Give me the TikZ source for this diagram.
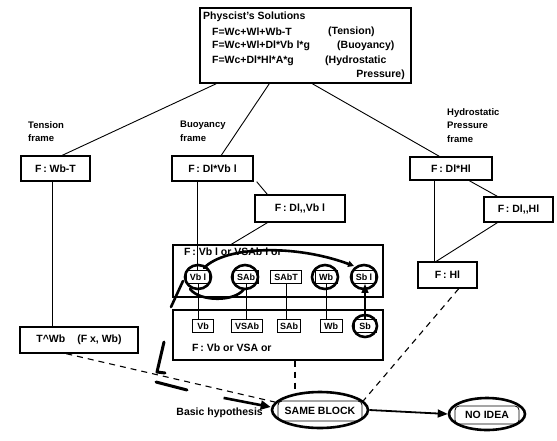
\documentclass[tikz,border=0pt]{standalone}
\usepackage{fontspec}
\setmainfont{Liberation Sans}
\usetikzlibrary{arrows.meta,calc,shapes.geometric}
\begin{document}
\begin{tikzpicture}[x=1pt,y=-1pt,
  box/.style={draw,line width=1.4pt,rectangle,inner sep=0pt,font=\fontsize{10.5}{12}\selectfont\bfseries},
  sbox/.style={draw,line width=0.9pt,rectangle,inner sep=0pt,minimum height=13pt,font=\fontsize{9}{10}\selectfont\bfseries},
  txt/.style={inner sep=0pt,font=\fontsize{10.5}{13.5}\selectfont\bfseries},
  lbl/.style={inner sep=0pt,font=\fontsize{9.5}{13.5}\selectfont\bfseries},
  conn/.style={line width=0.9pt},
  dconn/.style={line width=1.1pt,dash pattern=on 6pt off 5pt},
  scrib/.style={line width=2.6pt,line cap=round,line join=round},
  oval/.style={draw,ellipse,line width=2.6pt,inner sep=0pt},
  ibox/.style={draw,rectangle,rounded corners=4pt,line width=0.8pt,inner sep=0pt,font=\fontsize{10.5}{12}\selectfont\bfseries},
]
\useasboundingbox (0,0) rectangle (557,440);
\fill[white] (0,0) rectangle (557,440);

% top box
\node[box,minimum width=211pt,minimum height=75pt] (top) at (305.5,45.5) {};
\node[txt,anchor=west] (t1) at (203,17) {Physcist's Solutions};
\node[txt,anchor=west] (t2) at (212,31.5) {F=Wc+Wl+Wb-T};
\node[txt,anchor=west] (t2b) at (328,31.5) {(Tension)};
\node[txt,anchor=west] (t3) at (212,46) {F=Wc+Wl+Dl*Vb l*g};
\node[txt,anchor=west] (t3b) at (337,46) {(Buoyancy)};
\node[txt,anchor=west] (t4) at (212,60.5) {F=Wc+Dl*Hl*A*g};
\node[txt,anchor=west] (t4b) at (325,60.5) {(Hydrostatic};
\node[txt,anchor=east] (t5) at (405,75) {Pressure)};

% frame labels
\node[lbl,anchor=north west,align=left] (lt) at (28,121) {Tension\\frame};
\node[lbl,anchor=north west,align=left] (lbu) at (180,121) {Buoyancy\\frame};
\node[lbl,anchor=north west,align=left] (lh) at (447,108) {Hydrostatic\\Pressure\\frame};

% frame boxes
\node[box,minimum width=69pt,minimum height=25pt] (wbt) at (55.5,168.5) {F\,:\ Wb-T};
\node[box,minimum width=81pt,minimum height=25pt] (dvb) at (212.5,168.5) {F\,:\ Dl*Vb l};
\node[box,minimum width=90pt,minimum height=27pt] (dvb2) at (300,208.5) {F\,:\ Dl,{},Vb l};
\node[box,minimum width=82pt,minimum height=23pt] (dhl) at (451,168.5) {F\,:\ Dl*Hl};
\node[box,minimum width=69pt,minimum height=25pt] (dhl2) at (518.5,209.5) {F\,:\ Dl,{},Hl};
\node[box,minimum width=59pt,minimum height=26pt] (hl) at (447.5,275) {F\,:\ Hl};
\node[box,minimum width=118pt,minimum height=26pt] (twb) at (79,340) {T\textasciicircum Wb\hspace{12pt}(F x, Wb)};

% big boxes
\node[box,minimum width=210pt,minimum height=52pt] (ub) at (278,271) {};
\node[box,minimum width=210pt,minimum height=50pt] (lob) at (278,335) {};
\node[txt,anchor=west] (ubl) at (184,252) {F\,:\ Vb l or VSAb l or};
\node[txt,anchor=west] (lobl) at (192,348) {F\,:\ Vb or VSA or};

% upper row
\node[sbox,minimum width=23pt] (u1) at (198,277) {Vb l};
\node[sbox,minimum width=25pt] (u2) at (246,277) {SAb};
\node[sbox,minimum width=31pt] (u3) at (286,277) {SAbT};
\node[sbox,minimum width=22pt] (u4) at (326,277) {Wb};
\node[sbox,minimum width=23pt] (u5) at (364,277) {Sb l};
% lower row
\node[sbox,minimum width=21pt] (l1) at (203,326) {Vb};
\node[sbox,minimum width=31pt] (l2) at (247,326) {VSAb};
\node[sbox,minimum width=23pt] (l3) at (289,326) {SAb};
\node[sbox,minimum width=22pt] (l4) at (331,326) {Wb};
\node[sbox,minimum width=22pt] (l5) at (365,326) {Sb};

\draw[conn] (u1.south) -- (u1.south |- l1.north);
\draw[conn] (u2.south) -- (u2.south |- l2.north);
\draw[conn] (u3.south) -- (u3.south |- l3.north);
\draw[conn] (u4.south) -- (u4.south |- l4.north);
\draw[line width=1.6pt,-{Triangle[length=9pt,width=7pt]}] (l5.north) -- (l5.north |- u5.south);

% connectors
\draw[conn] ([xshift=17pt]top.south west) -- ([xshift=42pt]wbt.north west);
\draw[conn] ([xshift=70pt]top.south west) -- ([xshift=50pt]dvb.north west);
\draw[conn] ([xshift=113pt]top.south west) -- ([xshift=30pt]dhl.north west);
\draw[conn] ([xshift=-3pt]wbt.south) -- ([xshift=-3pt]wbt.south |- twb.north);
\draw[conn] ([xshift=-15pt]dvb.south) -- ([xshift=-15pt]dvb.south |- u1.north);
\draw[conn] ([xshift=3pt]dvb.south east) -- ([xshift=13pt]dvb2.north west);
\draw[conn] ([xshift=13pt]dvb2.south west) -- ([xshift=59pt]ub.north west);
\draw[conn] ([xshift=25pt]dhl.south west) -- ([xshift=25pt]dhl.south west |- hl.north);
\draw[conn] ([xshift=60pt]dhl.south west) -- ([xshift=14pt]dhl2.north west);
\draw[conn] ([xshift=14pt]dhl2.south west) -- ([xshift=19pt]hl.north west);

% conclusion nodes
\node[oval,minimum width=96pt,minimum height=36pt] (same) at (320,410) {};
\node[ibox,minimum width=84pt,minimum height=20pt] (sameb) at (320,411) {SAME BLOCK};
\node[oval,minimum width=76pt,minimum height=32pt] (noidea) at (487,414) {};
\node[ibox,minimum width=64pt,minimum height=18pt] (noideab) at (487,415) {NO IDEA};
\node[txt,anchor=east] (hyp) at (263,413) {Basic hypothesis};

\draw[dconn] ([xshift=47pt]twb.south west) -- (same.170);
\draw[dconn] ([xshift=17pt]lob.south) -- ([xshift=17pt]lob.south |- same.north);
\draw[dconn] ([xshift=-19pt]hl.south east) -- (same.12);
\draw[line width=1.8pt,-{Triangle[length=10pt,width=8pt]}] (same.east) -- (noidea.west);
\draw[line width=2.6pt,-{Triangle[length=10pt,width=9pt]}] ([xshift=4pt,yshift=10pt]hyp.north) -- ([yshift=3pt]same.west);

% hand-drawn marks
\draw[scrib] (198,277) ellipse [x radius=13pt, y radius=12pt];
\draw[scrib] (245,277) ellipse [x radius=13pt, y radius=12pt];
\draw[scrib] (325,277) ellipse [x radius=13pt, y radius=12pt];
\draw[scrib] (364,277) ellipse [x radius=13pt, y radius=12pt];
\draw[scrib] (365,326) ellipse [x radius=12pt, y radius=11pt];
\draw[scrib,-{Triangle[length=6pt,width=6pt]}] (204,268) .. controls (225,246) and (295,244) .. (354,266);
\draw[scrib] (190,289) .. controls (200,302) and (235,302) .. (244,289);
\draw[scrib] (171,307) -- (183,281);
\draw[scrib,line width=3pt] (164,342) -- (157,372) -- (165,373);
\draw[scrib,line width=3pt] (156,382) -- (187,390);
\end{tikzpicture}
\end{document}
